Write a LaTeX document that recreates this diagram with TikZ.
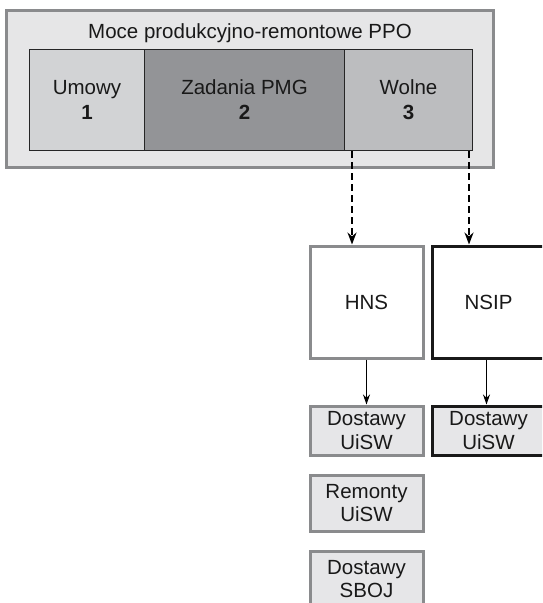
\documentclass[tikz,border=0pt]{standalone}
\usepackage{fontspec}
\setmainfont{Liberation Sans}
\usetikzlibrary{arrows.meta,calc}
\definecolor{outerfill}{HTML}{E6E6E7}
\definecolor{bordergray}{HTML}{8A8B8D}
\definecolor{cellA}{HTML}{D2D3D5}
\definecolor{cellB}{HTML}{939497}
\definecolor{cellC}{HTML}{BCBDBF}
\definecolor{smallfill}{HTML}{E6E6E8}
\begin{document}
\begin{tikzpicture}[x=1pt,y=-1pt,
  txt/.style={font=\fontsize{20.5}{25}\selectfont, align=center, text=black!90},
  cell/.style={draw=black!85, line width=1pt, inner sep=0pt, minimum height=101pt, txt},
  bigbox/.style={draw, line width=3pt, fill=white, inner sep=0pt, minimum width=113pt, minimum height=112pt, txt},
  smallbox/.style={draw, line width=3pt, fill=smallfill, inner sep=0pt, minimum width=113pt, minimum height=49pt, font=\fontsize{20.5}{23.5}\selectfont, align=center, text=black!90},
  dasharrow/.style={line width=1.8pt, dash pattern=on 7pt off 4pt, -{Stealth[length=12pt,width=9pt]}},
  thinarrow/.style={line width=0.9pt, -{Stealth[length=10pt,width=7pt]}}
]
\useasboundingbox (0,0) rectangle (542,603);
\clip (0,0) rectangle (542,603);
% outer box
\node[draw=bordergray, fill=outerfill, line width=3pt, inner sep=0pt, minimum width=487pt, minimum height=157pt] (outer) at (250,89) {};
\node[txt, anchor=base] (title) at (250,38) {Moce produkcyjno-remontowe PPO};
% cells
\node[cell, fill=cellA, minimum width=115pt, anchor=north west] (umowy) at (29,49) {Umowy\\\textbf{1}};
\node[cell, fill=cellB, minimum width=200pt, anchor=north west] (zadania) at (144,49) {Zadania PMG\\\textbf{2}};
\node[cell, fill=cellC, minimum width=128pt, anchor=north west] (wolne) at (344,49) {Wolne\\\textbf{3}};
% big boxes
\node[bigbox, draw=bordergray, anchor=north west] (hns) at (308.5,244.5) {HNS};
\node[bigbox, draw=black!90, anchor=north west] (nsip) at (430.5,244.5) {NSIP};
% small boxes
\node[smallbox, draw=bordergray, anchor=north west] (du1) at (308.5,404.5) {Dostawy\\UiSW};
\node[smallbox, draw=black!90, anchor=north west] (du2) at (430.5,404.5) {Dostawy\\UiSW};
\node[smallbox, draw=bordergray, anchor=north west, minimum height=56pt] (ru) at (308.5,473.5) {Remonty\\UiSW};
\node[smallbox, draw=bordergray, anchor=north west, minimum height=56pt] (ds) at (308.5,549.5) {Dostawy\\SBOJ};
% dashed arrows
\draw[dasharrow] ($(wolne.south west)+(8,0)$) coordinate (d1) -- (d1 |- hns.north);
\draw[dasharrow] ($(wolne.south east)+(-4,0)$) coordinate (d2) -- (d2 |- nsip.north);
% thin arrows
\draw[thinarrow] (hns.south) -- (du1.north);
\draw[thinarrow] ($(nsip.south)+(-2,0)$) coordinate (n1) -- (n1 |- du2.north);
\end{tikzpicture}
\end{document}
